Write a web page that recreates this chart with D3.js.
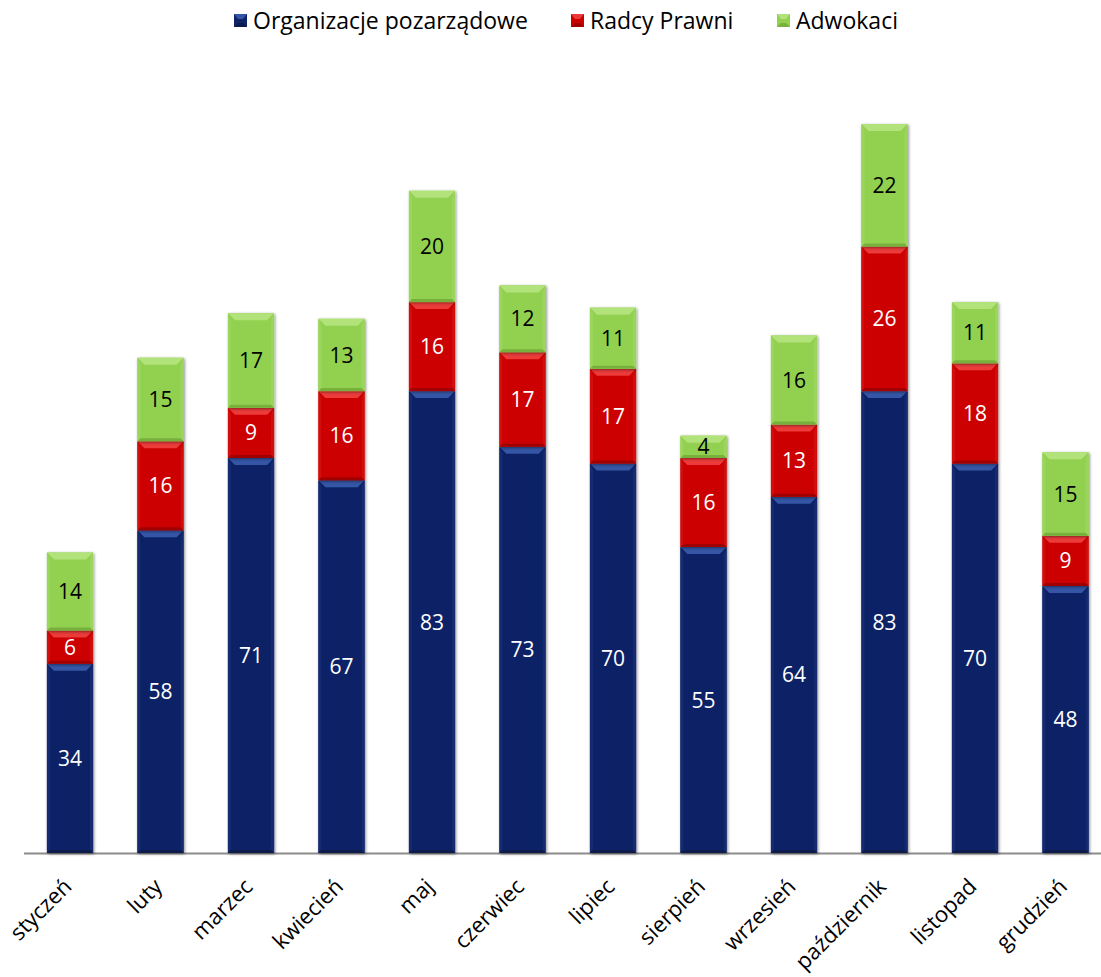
<!DOCTYPE html>
<html>
<head>
<meta charset="utf-8">
<script src="https://cdn.jsdelivr.net/npm/d3@7"></script>
<style>
body{margin:0;background:#fff;}
svg{display:block;font-family:"Open Sans","Noto Sans",sans-serif;}
</style>
</head>
<body>
<svg></svg>
<script>
var months=["styczeń","luty","marzec","kwiecień","maj","czerwiec","lipiec","sierpień","wrzesień","październik","listopad","grudzień"];
var seriesNames=["Organizacje pozarządowe","Radcy Prawni","Adwokaci"];
var organizacje=[34,58,71,67,83,73,70,55,64,83,70,48];
var radcy=[6,16,9,16,16,17,17,16,13,26,18,9];
var adwokaci=[14,15,17,13,20,12,11,4,16,22,11,15];

var colors=[
  {fill:"#0e2466",top:"#3556a6",side:"#132b72",bottom:"#0a1a4c",text:"#ffffff"},
  {fill:"#cc0000",top:"#ec3a3a",side:"#d21010",bottom:"#a00000",text:"#ffffff"},
  {fill:"#92d050",top:"#b2e27a",side:"#9ad65c",bottom:"#78b03c",text:"#000000"}
];

var scren={width:1101,height:977};
var svg=d3.select("svg").attr("width",scren.width).attr("height",scren.height);

var rows=months.map(function(m,i){
  return {month:m,s0:organizacje[i],s1:radcy[i],s2:adwokaci[i]};
});
var stack=d3.stack().keys(["s0","s1","s2"]);
var layers=stack(rows);

var xScale=d3.scaleBand().domain(months).range([24.75,1110.75]).paddingInner(0.49).paddingOuter(0.245);
var yScale=d3.scaleLinear().domain([0,131]).range([853,124]);

var defs=svg.append("defs");
var f=defs.append("filter").attr("id","shadow").attr("x","-30%").attr("y","-10%").attr("width","160%").attr("height","120%");
f.append("feGaussianBlur").attr("in","SourceAlpha").attr("stdDeviation",1.6);
f.append("feOffset").attr("dx",1).attr("dy",1).attr("result","b");
f.append("feComponentTransfer").append("feFuncA").attr("type","linear").attr("slope",0.45);
var fm=f.append("feMerge");
fm.append("feMergeNode");
fm.append("feMergeNode").attr("in","SourceGraphic");

var plot=svg.append("g");

// axis line
plot.append("line")
  .attr("x1",24).attr("x2",1101)
  .attr("y1",yScale(0)+0.5).attr("y2",yScale(0)+0.5)
  .attr("stroke","#8c8c8c").attr("stroke-width",2);

var bev=7;
layers.forEach(function(layer,k){
  var c=colors[k];
  var g=plot.append("g");
  layer.forEach(function(d){
    var x0=xScale(d.data.month),w=xScale.bandwidth();
    var yT=yScale(d[1]),yB=yScale(d[0]),h=yB-yT;
    var b=Math.min(bev,h/2);
    var sb=Math.min(3,h/2);
    var seg=g.append("g").attr("filter","url(#shadow)");
    seg.append("rect").attr("x",x0).attr("y",yT).attr("width",w).attr("height",h).attr("fill",c.fill);
    var pts=function(a){return a.map(function(p){return p.join(",");}).join(" ");};
    seg.append("polygon").attr("points",pts([[x0,yT],[x0+sb,yT+b],[x0+sb,yB-sb],[x0,yB]])).attr("fill",c.side);
    seg.append("polygon").attr("points",pts([[x0+w,yT],[x0+w-sb,yT+b],[x0+w-sb,yB-sb],[x0+w,yB]])).attr("fill",c.side);
    seg.append("polygon").attr("points",pts([[x0,yB],[x0+sb,yB-sb],[x0+w-sb,yB-sb],[x0+w,yB]])).attr("fill",c.bottom);
    seg.append("polygon").attr("points",pts([[x0,yT],[x0+w,yT],[x0+w-b,yT+b],[x0+b,yT+b]])).attr("fill",c.top);
    g.append("text")
      .attr("x",x0+w/2).attr("y",(yT+yB)/2)
      .attr("dy","0.36em")
      .attr("text-anchor","middle")
      .attr("font-size",21)
      .attr("fill",c.text)
      .text(d[1]-d[0]);
  });
});

// x labels
months.forEach(function(m){
  var cx=xScale(m)+xScale.bandwidth()/2;
  plot.append("text")
    .attr("transform","translate("+(cx+3)+","+(yScale(0)+35)+") rotate(-45)")
    .attr("text-anchor","end")
    .attr("font-size",22)
    .attr("fill","#000")
    .text(m);
});

// legend
var legX=[234,571,777];
seriesNames.forEach(function(n,k){
  var c=colors[k];
  var lg=svg.append("g").attr("transform","translate("+legX[k]+",14)");
  lg.append("rect").attr("width",13).attr("height",13).attr("fill",c.fill);
  lg.append("polygon").attr("points","0,0 13,0 9,5 4,5").attr("fill",c.top);
  lg.append("polygon").attr("points","0,13 13,13 9,9 4,9").attr("fill",c.bottom);
  lg.append("text").attr("x",19).attr("y",7).attr("dy","0.36em")
    .attr("font-size",23).attr("fill","#000").text(n);
});
</script>
</body>
</html>
